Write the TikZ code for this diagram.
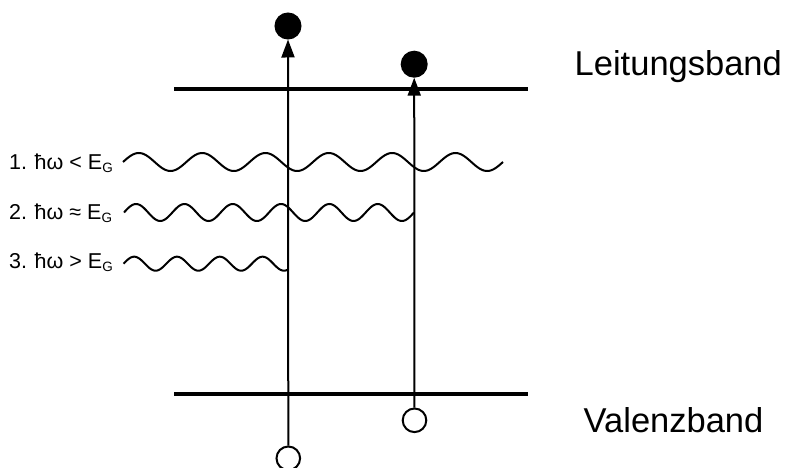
\documentclass[tikz,border=0pt]{standalone}
\usepackage{fontspec}
\setmainfont{Liberation Sans}
\usetikzlibrary{arrows.meta}
\tikzset{
  band/.style={line width=4pt},
  wave/.style={line width=2pt, smooth},
  arr/.style={line width=2pt, -{Triangle[length=18pt,width=13pt]}},
  electron/.style={circle, fill=black, draw=black, line width=2pt, minimum size=25pt, inner sep=0pt},
  hole/.style={circle, fill=white, draw=black, line width=2pt, minimum size=23.6pt, inner sep=0pt},
  lbl/.style={anchor=base west, inner sep=0pt, font=\fontsize{21.5}{25}\selectfont},
  bandlbl/.style={anchor=base west, inner sep=0pt, font=\fontsize{34.5}{40}\selectfont},
}
\newcommand{\subG}{\raisebox{-3pt}{\fontsize{13.5}{15}\selectfont G}}
\begin{document}
\begin{tikzpicture}[x=1pt,y=-1pt]
\useasboundingbox (0,0) rectangle (787,468);
% bands
\coordinate (cbL) at (174,89.5);
\coordinate (cbR) at (528,89.5);
\coordinate (vbL) at (174,394);
\coordinate (vbR) at (528,394);
\draw[band] (cbL) -- (cbR);
\draw[band] (vbL) -- (vbR);
\node[bandlbl] (lb) at (574.5,76) {Leitungsband};
\node[bandlbl] (vb) at (583.5,432.5) {Valenzband};
% waves
\draw[wave] plot[domain=123:503, samples=240] (\x,{162-9*sin(360*((\x-123)/63.33))});
\draw[wave] plot[domain=124:414, samples=200] (\x,{212.5-8.5*sin(360*((\x-124)/48.33))});
\draw[wave] plot[domain=123.5:288, samples=160] (\x,{263.7-7*sin(360*((\x-123.5)/42.8))});
% labels
\node[lbl] (l1) at (9,169) {1.\hspace{7.5pt}ħω\hspace{6pt}<\hspace{6pt}E\subG};
\node[lbl] (l2) at (9,219) {2.\hspace{7.5pt}ħω\hspace{6pt}≈\hspace{6pt}E\subG};
\node[lbl] (l3) at (9,268.5) {3.\hspace{7.5pt}ħω\hspace{6pt}>\hspace{6pt}E\subG};
% carriers
\node[electron] (e1) at (288,26) {};
\node[electron] (e2) at (414.2,64.2) {};
\node[hole] (h1) at (288.3,458.3) {};
\node[hole] (h2) at (414.5,420.3) {};
\draw[arr] (h1) -- (e1);
\draw[arr] (h2) -- (e2);
\end{tikzpicture}
\end{document}
